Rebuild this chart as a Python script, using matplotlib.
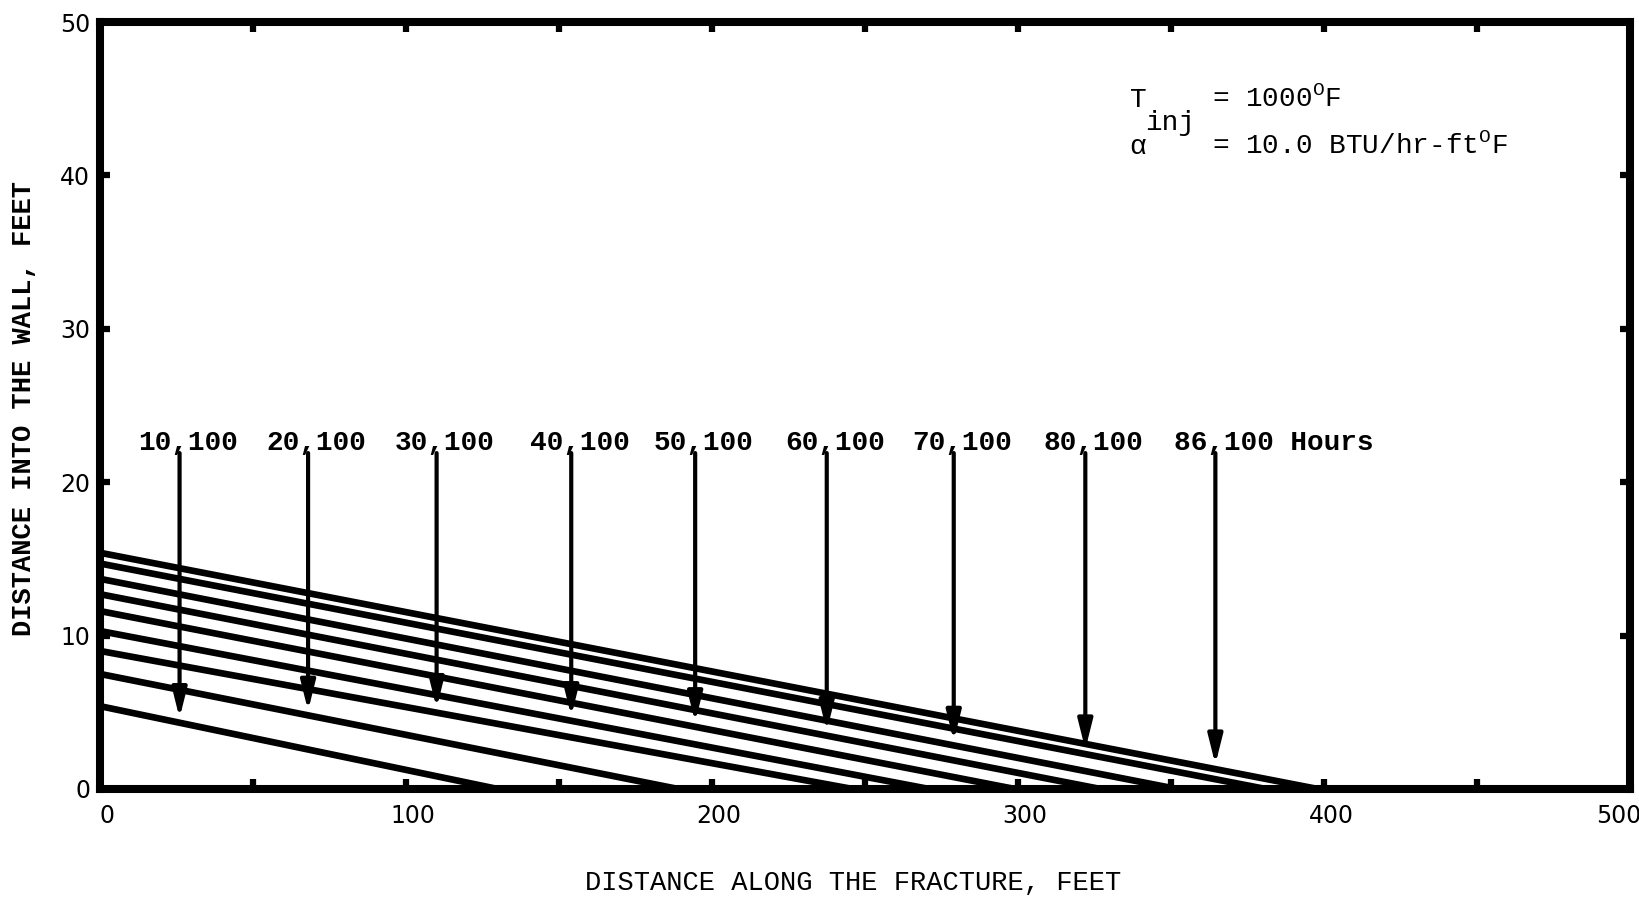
import matplotlib
matplotlib.use("Agg")
import matplotlib.pyplot as plt

# ---- data ----
line_y0 = [5.4, 7.5, 9.0, 10.3, 11.6, 12.7, 13.7, 14.7, 15.4]      # depth at x=0 (ft)
line_xint = [130, 189, 246, 271, 299, 327, 352, 381, 398]         # x where depth reaches 0 (ft)
arrow_x = [26, 68, 110, 154, 194.5, 237.5, 279, 322, 364.5]       # arrow positions along fracture (ft)
arrow_labels = ["10,100", "20,100", "30,100", "40,100", "50,100",
                "60,100", "70,100", "80,100", "86,100 Hours"]
xticks_major = [0, 100, 200, 300, 400, 500]
xticks_minor = [50, 150, 250, 350, 450]
yticks = [0, 10, 20, 30, 40, 50]

MONO = ["Liberation Mono", "DejaVu Sans Mono"]

fig = plt.figure(figsize=(16.39, 8.98), dpi=100)
W, H = 1639, 898
ax = fig.add_axes([100 / W, (H - 789) / H, 1530 / W, 767 / H])
ax.set_xlim(0, 500)
ax.set_ylim(0, 50)

for y0, xi in zip(line_y0, line_xint):
    ax.plot([0, xi], [y0, 0], color="black", lw=4.8, solid_capstyle="butt", zorder=2)

label_y = 22.1
for i, (xa, lab) in enumerate(zip(arrow_x, arrow_labels)):
    y_tip = line_y0[i] * (1 - xa / line_xint[i]) + 0.3
    ax.annotate("", xy=(xa, y_tip), xytext=(xa, 21.9),
                arrowprops=dict(arrowstyle="-|>,head_length=0.8,head_width=0.2",
                                mutation_scale=22, lw=3.0, color="black",
                                shrinkA=0, shrinkB=0), zorder=3)
    ax.annotate(lab, xy=(xa, label_y), xytext=(-30, 0), textcoords="offset points",
                ha="left", va="baseline", fontsize=20, family=MONO, color="black",
                fontweight="semibold")

# parameter box
kw = dict(transform=ax.transAxes, fontsize=20, family=MONO, va="baseline")
ax.text(0.673, 0.889, "T", **kw)
ax.text(0.683, 0.859, "inj", **kw)
ax.text(0.727, 0.889, r"= 1000$^{\mathregular{O}}$F", **kw)
ax.text(0.673, 0.828, "α", **kw)
ax.text(0.727, 0.828, r"= 10.0 BTU/hr-ft$^{\mathregular{O}}$F", **kw)

# axes styling
for s in ax.spines.values():
    s.set_linewidth(5.8)
    s.set_color("black")
    s.set_zorder(5)
ax.set_xticks(xticks_major)
ax.set_xticks(xticks_minor, minor=True)
ax.set_yticks(yticks)
ax.set_xticklabels([])
ax.tick_params(which="both", direction="in", length=7, width=4.5, color="black",
               top=True, right=True)
ax.tick_params(axis="y", which="major", pad=7, labelsize=17)
for lab in ax.get_yticklabels():
    lab.set_family("DejaVu Sans")

# x tick labels (slightly offset as in the original lettering)
for k, xt in enumerate(xticks_major):
    dx = -8 if k == len(xticks_major) - 1 else 5
    ax.annotate(str(xt), xy=(xt, 0), xycoords=("data", "axes fraction"),
                xytext=(dx, -11), textcoords="offset points", ha="center", va="top",
                fontsize=17, family="DejaVu Sans")

fig.text(853 / W, 1 - 883 / H, "DISTANCE ALONG THE FRACTURE, FEET", ha="center", va="center",
         fontsize=19.5, family=MONO)
fig.text(24 / W, 1 - 408 / H, "DISTANCE INTO THE WALL, FEET", ha="center", va="center",
         rotation=90, fontsize=19.5, family=MONO, fontweight="bold")

fig.savefig("out.png", dpi=100, facecolor="white")
